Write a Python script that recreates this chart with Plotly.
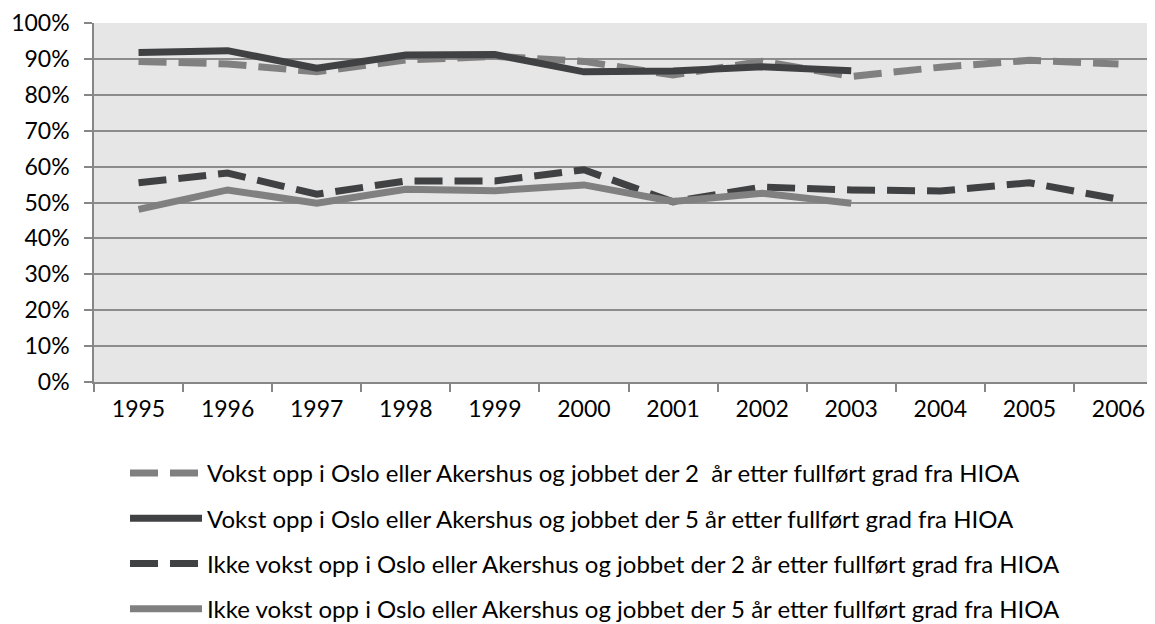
import plotly.graph_objects as go

years = ["1995", "1996", "1997", "1998", "1999", "2000", "2001", "2002", "2003", "2004", "2005", "2006"]

names = [
    "Vokst opp i Oslo eller Akershus og jobbet der 2  år etter fullført grad fra HIOA",
    "Vokst opp i Oslo eller Akershus og jobbet der 5 år etter fullført grad fra HIOA",
    "Ikke vokst opp i Oslo eller Akershus og jobbet der 2 år etter fullført grad fra HIOA",
    "Ikke vokst opp i Oslo eller Akershus og jobbet der 5 år etter fullført grad fra HIOA",
]

oslo_2 = [0.893, 0.886, 0.864, 0.897, 0.907, 0.893, 0.855, 0.893, 0.851, 0.877, 0.896, 0.886]
oslo_5 = [0.918, 0.923, 0.874, 0.911, 0.912, 0.864, 0.866, 0.878, 0.867]
ikke_2 = [0.555, 0.582, 0.523, 0.560, 0.560, 0.591, 0.502, 0.543, 0.535, 0.532, 0.555, 0.509]
ikke_5 = [0.481, 0.535, 0.498, 0.537, 0.533, 0.549, 0.503, 0.526, 0.498]

DARK = "#404143"
GRAY = "#808080"
FONT = "Lato"

series = [
    (names[0], years, oslo_2, GRAY, "28px,12px"),
    (names[1], years[:len(oslo_5)], oslo_5, DARK, "solid"),
    (names[2], years, ikke_2, DARK, "28px,12px"),
    (names[3], years[:len(ikke_5)], ikke_5, GRAY, "solid"),
]

fig = go.Figure()
for i, (nm, xs, ys, col, dash) in enumerate(series):
    fig.add_trace(go.Scatter(
        x=xs, y=ys, name=nm, mode="lines",
        line=dict(color=col, width=7, dash=dash),
        legendgroup=str(i),
    ))

W, H = 1147, 616
fig.update_layout(
    width=W, height=H,
    margin=dict(l=86, r=0, t=15, b=242, autoexpand=False),
    paper_bgcolor="white",
    plot_bgcolor="#e6e6e6",
    font=dict(family=FONT, size=23, color="#000000"),
    showlegend=True,
    legend=dict(
        xref="container", yref="container",
        x=117 / W, y=1 - 443 / H,
        xanchor="left", yanchor="top",
        orientation="v",
        traceorder="grouped",
        itemwidth=72,
        tracegroupgap=11,
        font=dict(family=FONT, size=24, color="#000000"),
        bgcolor="rgba(0,0,0,0)",
    ),
    xaxis=dict(
        type="category",
        categoryorder="array", categoryarray=years,
        range=[-0.5, 11.41],
        tickson="boundaries",
        ticks="outside", ticklen=8, tickcolor="#868686", tickwidth=1.5,
        showline=True, linecolor="#868686", linewidth=1.5,
        showgrid=False,
        tickangle=0,
        tickfont=dict(family=FONT, size=23),
        ticklabelstandoff=6,
    ),
    yaxis=dict(
        range=[0, 1], tickvals=[i / 10 for i in range(11)],
        tickformat=".0%",
        ticks="outside", ticklen=8, tickcolor="#868686", tickwidth=1.5,
        showline=True, linecolor="#868686", linewidth=1.5,
        showgrid=True, gridcolor="#8c8c8c", gridwidth=1.5,
        zeroline=False,
        tickfont=dict(family=FONT, size=23),
        ticklabelstandoff=10,
    ),
)

fig.write_html("out.html")
